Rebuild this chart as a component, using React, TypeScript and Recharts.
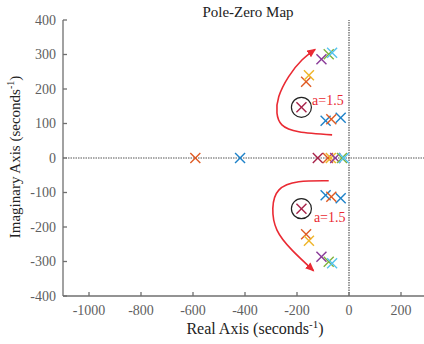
import React from "react";
import { ReferenceDot, ReferenceLine, Scatter, ScatterChart, XAxis, YAxis } from "recharts";

// pole locations [real, imaginary]; complex poles are listed once, the conjugate is added below
const bluePoles = [[-90, 108], [-32, 117], [-419, 0]];
const orangePoles = [[-68, 112], [-165, 221], [-591, 0], [-81, 0]];
const yellowPoles = [[-154, 240], [-70, 0]];
const purplePoles = [[-106, 286], [-53, 0]];
const greenPoles = [[-78, 301], [-27, 0]];
const cyanPoles = [[-65, 305], [-20, 0]];
const darkRedPoles = [[-183, 147], [-120, 0]];

const xTicks = [-1000, -800, -600, -400, -200, 0, 200];
const yTicks = [-400, -300, -200, -100, 0, 100, 200, 300, 400];

// red trajectory arrows
const upperArrow = [[-65, 67], [-193, 76], [-258, 96], [-277, 130], [-270, 178], [-232, 236], [-181, 284], [-130, 315]];
const lowerArrow = [[-78, -66], [-193, -69], [-270, -93], [-293, -146], [-277, -209], [-219, -267], [-136, -327]];

const gainLabel = "a=1.5";
const gainLabelAt = [[-142, 154], [-135, -186]];

const series = [
  { name: "p1", color: "#1f82c9", poles: bluePoles },
  { name: "p2", color: "#df5a23", poles: orangePoles },
  { name: "p3", color: "#efb528", poles: yellowPoles },
  { name: "p4", color: "#8a3a98", poles: purplePoles },
  { name: "p5", color: "#7fb23a", poles: greenPoles },
  { name: "p6", color: "#55c3ee", poles: cyanPoles },
  { name: "p7", color: "#a8234a", poles: darkRedPoles },
];

const toPoints = (poles: number[][]) =>
  poles.flatMap(([re, im]) => (im === 0 ? [{ x: re, y: 0 }] : [{ x: re, y: im }, { x: re, y: -im }]));

const toXY = (pts: number[][]) => pts.map(([x, y]) => ({ x, y }));

const FONT = "Liberation Serif, DejaVu Serif, serif";
const AXIS = "#6f6f6f";
const RED = "#ea2a33";

function cross(color: string) {
  return (props: any) => {
    const { cx, cy } = props;
    const s = 5;
    return (
      <g stroke={color} strokeWidth={1.4}>
        <line x1={cx - s} y1={cy - s} x2={cx + s} y2={cy + s} />
        <line x1={cx - s} y1={cy + s} x2={cx + s} y2={cy - s} />
      </g>
    );
  };
}

const noDot = () => <g />;

const labelShape = (props: any) => (
  <text x={props.cx} y={props.cy} fill={RED} fontSize={14} style={{ fontFamily: FONT }}>
    {gainLabel}
  </text>
);

const tickStyle = { fill: "#5f5f5f", fontSize: 14, style: { fontFamily: FONT } };

export default function App() {
  return (
    <div
      style={{
        position: "absolute",
        left: 0,
        top: 0,
        width: 424,
        height: 344,
        overflow: "hidden",
        background: "#fff",
        fontFamily: FONT,
      }}
    >
      <svg width={0} height={0} style={{ position: "absolute" }}>
        <defs>
          <marker id="arrowHead" markerUnits="userSpaceOnUse" markerWidth={10} markerHeight={10} refX={8} refY={4} orient="auto">
            <path d="M0,0 L9,4 L0,8 z" fill={RED} />
          </marker>
        </defs>
      </svg>
      <ScatterChart width={430} height={344} margin={{ top: 20, right: 3, bottom: 18, left: 8 }} style={{ fontFamily: FONT }}>
        <XAxis
          type="number"
          dataKey="x"
          domain={[-1100, 300]}
          ticks={xTicks}
          allowDataOverflow
          height={30}
          axisLine={{ stroke: AXIS, strokeWidth: 1.3 }}
          tickLine={{ stroke: AXIS, strokeWidth: 1.3 }}
          tickSize={-4}
          tickMargin={13}
          tick={tickStyle}
        />
        <XAxis
          xAxisId="top"
          orientation="top"
          type="number"
          dataKey="x"
          domain={[-1100, 300]}
          ticks={xTicks}
          height={0}
          axisLine={{ stroke: AXIS, strokeWidth: 1.3 }}
          tickLine={{ stroke: AXIS, strokeWidth: 1.3 }}
          tickSize={-4}
          tick={false}
        />
        <YAxis
          type="number"
          dataKey="y"
          domain={[-400, 400]}
          ticks={yTicks}
          allowDataOverflow
          width={55}
          axisLine={{ stroke: AXIS, strokeWidth: 1.3 }}
          tickLine={{ stroke: AXIS, strokeWidth: 1.3 }}
          tickSize={-4}
          tickMargin={11}
          tick={tickStyle}
        />
        <ReferenceLine y={0} stroke="#555" strokeWidth={1.2} strokeDasharray="1.5 1" />
        <ReferenceLine x={0} stroke="#555" strokeWidth={1.2} strokeDasharray="1.5 1" />
        {series.map((s) => (
          <Scatter key={s.name} data={toPoints(s.poles)} shape={cross(s.color)} isAnimationActive={false} />
        ))}
        <ReferenceDot x={darkRedPoles[0][0]} y={darkRedPoles[0][1]} r={10} fill="none" stroke="#222" strokeWidth={1.2} />
        <ReferenceDot x={darkRedPoles[0][0]} y={-darkRedPoles[0][1]} r={10} fill="none" stroke="#222" strokeWidth={1.2} />
        <Scatter
          data={toXY(upperArrow)}
          line={{ stroke: RED, strokeWidth: 1.6, markerEnd: "url(#arrowHead)" }}
          lineJointType="natural"
          shape={noDot}
          isAnimationActive={false}
        />
        <Scatter
          data={toXY(lowerArrow)}
          line={{ stroke: RED, strokeWidth: 1.6, markerEnd: "url(#arrowHead)" }}
          lineJointType="natural"
          shape={noDot}
          isAnimationActive={false}
        />
        <Scatter data={toXY(gainLabelAt)} shape={labelShape} isAnimationActive={false} />
      </ScatterChart>
      <svg width={424} height={344} style={{ position: "absolute", left: 0, top: 0, pointerEvents: "none", fontFamily: FONT }}>
        <text x={248} y={17} textAnchor="middle" fontSize={15} fill="#222">
          Pole-Zero Map
        </text>
        <text x={255} y={334} textAnchor="middle" fontSize={16} fill="#222">
          Real Axis (seconds
          <tspan fontSize={11} dy={-6}>-1</tspan>
          <tspan dy={6}>)</tspan>
        </text>
        <text x={20} y={157} textAnchor="middle" fontSize={15} fill="#222" transform="rotate(-90 20 157)">
          Imaginary Axis (seconds
          <tspan fontSize={10} dy={-6}>-1</tspan>
          <tspan dy={6}>)</tspan>
        </text>
      </svg>
    </div>
  );
}
